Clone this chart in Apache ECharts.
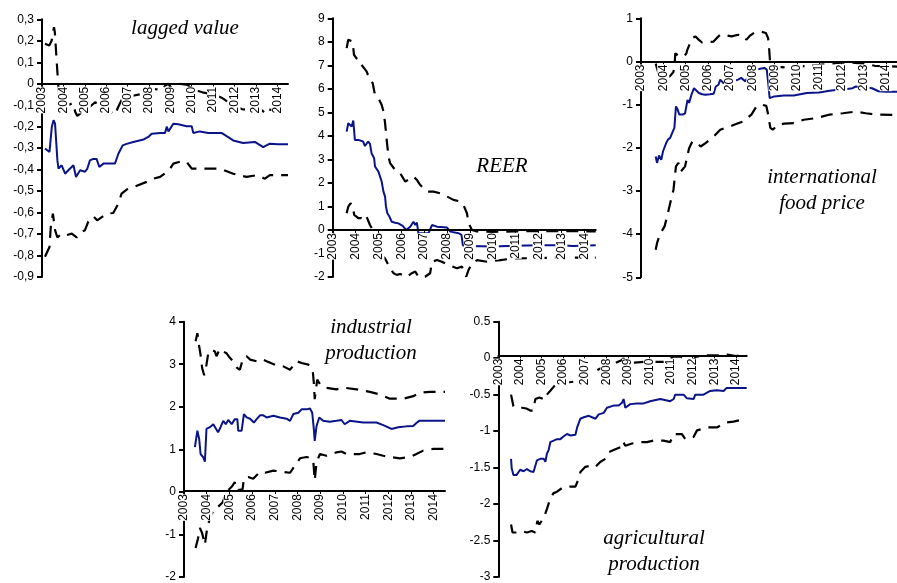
<!DOCTYPE html>
<html><head><meta charset="utf-8">
<script src="https://cdn.jsdelivr.net/npm/echarts@6/dist/echarts.min.js"></script>
<style>html,body{margin:0;padding:0;background:#fff}#c{width:897px;height:583px}</style>
</head><body><div id="c"></div>
<script>
// ---------- data (year, value) ----------
const yearTicks = [2003,2004,2005,2006,2007,2008,2009,2010,2011,2012,2013,2014];

const lagMid = [[2003.14,-0.302],[2003.35,-0.318],[2003.46,-0.20],[2003.54,-0.17],[2003.61,-0.186],[2003.72,-0.357],[2003.77,-0.395],[2003.92,-0.38],[2004.08,-0.419],[2004.23,-0.403],[2004.47,-0.38],[2004.59,-0.434],[2004.78,-0.403],[2005.01,-0.41],[2005.12,-0.395],[2005.24,-0.357],[2005.4,-0.35],[2005.55,-0.35],[2005.68,-0.388],[2005.87,-0.372],[2006.18,-0.372],[2006.41,-0.372],[2006.57,-0.326],[2006.77,-0.287],[2006.96,-0.28],[2007.27,-0.271],[2007.74,-0.26],[2007.97,-0.248],[2008.13,-0.233],[2008.52,-0.229],[2008.75,-0.229],[2008.83,-0.2],[2008.91,-0.222],[2009.14,-0.186],[2009.37,-0.189],[2009.76,-0.198],[2010.0,-0.198],[2010.07,-0.229],[2010.38,-0.222],[2010.77,-0.229],[2011.0,-0.229],[2011.39,-0.229],[2011.94,-0.264],[2012.4,-0.276],[2012.95,-0.271],[2013.34,-0.295],[2013.65,-0.279],[2014.04,-0.282],[2014.5,-0.282]];
const lagHigh = [[2003.14,0.186],[2003.34,0.178],[2003.45,0.20],[2003.56,0.263],[2003.6,0.24],[2003.72,0.054],[2003.8,-0.06],[2003.95,-0.1],[2004.2,-0.1],[2004.45,-0.09],[2004.55,-0.13],[2004.65,-0.15],[2004.9,-0.13],[2005.2,-0.11],[2005.5,-0.085],[2005.62,-0.115],[2005.9,-0.12],[2006.2,-0.13],[2006.4,-0.145],[2006.6,-0.1],[2006.8,-0.06],[2007.3,-0.055],[2007.8,-0.045],[2008.1,-0.02],[2008.3,-0.025],[2008.6,-0.03],[2008.75,-0.01],[2008.9,0.0],[2009.05,-0.02],[2009.4,0.0],[2009.8,-0.005],[2010.0,-0.025],[2010.5,-0.04],[2011.0,-0.05],[2011.4,-0.065],[2011.9,-0.1],[2012.4,-0.12],[2012.9,-0.115],[2013.3,-0.125],[2013.45,-0.14],[2013.6,-0.12],[2014.0,-0.125],[2014.5,-0.125]];
const lagLow = [[2003.14,-0.806],[2003.35,-0.76],[2003.41,-0.667],[2003.51,-0.605],[2003.61,-0.682],[2003.72,-0.716],[2003.92,-0.698],[2004.15,-0.705],[2004.39,-0.698],[2004.62,-0.716],[2004.85,-0.69],[2005.01,-0.682],[2005.16,-0.643],[2005.4,-0.617],[2005.58,-0.636],[2006.02,-0.605],[2006.33,-0.602],[2006.57,-0.558],[2006.72,-0.512],[2006.96,-0.493],[2007.27,-0.481],[2007.89,-0.457],[2008.21,-0.442],[2008.52,-0.434],[2008.83,-0.411],[2008.99,-0.395],[2009.14,-0.372],[2009.53,-0.361],[2009.76,-0.364],[2010.0,-0.395],[2010.38,-0.395],[2010.77,-0.395],[2011.32,-0.395],[2011.94,-0.419],[2012.56,-0.434],[2013.03,-0.426],[2013.42,-0.442],[2013.65,-0.426],[2014.5,-0.426]];

const reerMid = [[2003.61,4.18],[2003.68,4.54],[2003.75,4.61],[2003.83,4.4],[2003.9,4.65],[2003.97,3.83],[2004.12,3.83],[2004.19,3.9],[2004.33,3.76],[2004.41,3.57],[2004.55,3.76],[2004.63,3.66],[2004.7,3.26],[2004.81,3.05],[2004.85,2.7],[2005.0,2.48],[2005.07,2.41],[2005.14,2.06],[2005.22,1.63],[2005.29,1.42],[2005.33,0.99],[2005.39,0.71],[2005.48,0.57],[2005.58,0.35],[2005.73,0.31],[2005.87,0.28],[2005.95,0.35],[2006.06,0.17],[2006.21,0.0],[2006.27,0.03],[2006.39,0.14],[2006.53,0.35],[2006.61,0.21],[2006.68,0.31],[2006.75,-0.14],[2006.97,-0.14],[2007.19,-0.14],[2007.34,0.21],[2007.56,0.14],[2008.0,0.1],[2008.14,-0.07],[2008.51,-0.14],[2008.63,-0.21],[2008.69,-0.64],[2008.8,-0.7],[2009.0,-0.68],[2010.0,-0.7],[2011.0,-0.67],[2012.0,-0.65],[2013.0,-0.65],[2013.5,-0.68],[2014.5,-0.65]];
const reerHigh = [[2003.61,7.73],[2003.68,8.09],[2003.75,8.11],[2003.87,8.01],[2003.93,7.45],[2004.04,7.3],[2004.19,7.23],[2004.26,7.02],[2004.48,6.74],[2004.63,6.38],[2004.75,6.24],[2004.85,5.74],[2005.0,5.6],[2005.14,5.32],[2005.22,5.04],[2005.29,4.54],[2005.36,3.83],[2005.44,3.12],[2005.51,2.84],[2005.73,2.55],[2005.95,2.41],[2006.17,2.06],[2006.31,2.13],[2006.53,2.27],[2006.68,2.13],[2006.83,1.91],[2007.12,1.63],[2007.41,1.63],[2007.7,1.56],[2008.0,1.42],[2008.28,1.28],[2008.58,1.21],[2008.72,1.06],[2008.87,0.71],[2008.94,0.28],[2009.09,0.0],[2009.3,-0.06],[2010.0,-0.08],[2011.0,-0.06],[2012.0,-0.05],[2013.0,-0.05],[2014.5,-0.06]];
const reerLow = [[2003.61,0.71],[2003.68,0.99],[2003.78,1.13],[2003.87,1.06],[2003.94,0.64],[2004.12,0.5],[2004.26,0.5],[2004.41,0.43],[2004.48,0.57],[2004.63,0.21],[2004.75,0.0],[2004.85,-0.43],[2005.07,-0.99],[2005.29,-1.21],[2005.51,-1.63],[2005.66,-1.84],[2005.8,-1.91],[2005.95,-1.87],[2006.24,-2.0],[2006.46,-1.84],[2006.61,-1.77],[2006.75,-1.99],[2007.04,-1.99],[2007.26,-1.84],[2007.34,-1.35],[2007.56,-1.28],[2007.77,-1.35],[2008.07,-1.49],[2008.43,-1.63],[2008.65,-1.56],[2008.72,-1.7],[2008.84,-1.99],[2008.94,-1.7],[2009.09,-1.42],[2009.31,-1.28],[2009.75,-1.35],[2010.34,-1.28],[2010.92,-1.21],[2011.8,-1.2],[2012.53,-1.18],[2013.26,-1.18],[2014.5,-1.18]];

const foodMid = [[2003.66,-2.2],[2003.72,-2.35],[2003.81,-2.18],[2003.91,-2.28],[2003.99,-2.08],[2004.06,-2.12],[2004.13,-1.89],[2004.21,-1.81],[2004.31,-1.77],[2004.43,-1.62],[2004.5,-1.54],[2004.57,-1.04],[2004.65,-1.12],[2004.72,-1.23],[2004.87,-1.23],[2004.98,-1.2],[2005.09,-0.89],[2005.16,-0.96],[2005.28,-0.75],[2005.38,-0.62],[2005.46,-0.64],[2005.6,-0.73],[2005.75,-0.76],[2005.89,-0.77],[2006.1,-0.76],[2006.26,-0.75],[2006.36,-0.58],[2006.48,-0.54],[2006.56,-0.42],[2006.7,-0.5],[2006.9,-0.48],[2007.2,-0.45],[2007.36,-0.42],[2007.5,-0.38],[2007.68,-0.46],[2007.9,-0.3],[2008.1,-0.2],[2008.24,-0.18],[2008.54,-0.15],[2008.65,-0.19],[2008.73,-0.58],[2008.78,-0.85],[2008.83,-0.87],[2008.98,-0.81],[2009.42,-0.79],[2009.86,-0.79],[2010.45,-0.73],[2011.0,-0.72],[2011.47,-0.68],[2011.76,-0.66],[2012.1,-0.65],[2012.5,-0.62],[2012.65,-0.58],[2013.0,-0.6],[2013.38,-0.62],[2013.67,-0.69],[2014.0,-0.7],[2014.5,-0.7]];
const foodHigh = [[2003.66,-0.05],[2003.8,-0.3],[2004.0,-0.4],[2004.3,-0.34],[2004.45,-0.25],[2004.5,-0.15],[2004.54,0.19],[2004.72,0.12],[2004.94,0.12],[2005.04,0.19],[2005.08,0.27],[2005.3,0.54],[2005.45,0.58],[2005.6,0.5],[2005.74,0.44],[2005.89,0.44],[2006.26,0.46],[2006.4,0.54],[2006.56,0.62],[2006.7,0.62],[2007.07,0.58],[2007.36,0.62],[2007.66,0.58],[2007.73,0.5],[2007.9,0.6],[2008.1,0.67],[2008.39,0.69],[2008.61,0.66],[2008.71,0.54],[2008.76,0.27],[2008.8,-0.04],[2008.85,-0.12],[2009.0,-0.12],[2009.5,-0.14],[2010.0,-0.12],[2010.5,-0.1],[2011.0,-0.08],[2011.5,-0.05],[2012.0,-0.03],[2012.5,-0.03],[2013.0,-0.05],[2013.5,-0.1],[2014.5,-0.12]];
const foodLow = [[2003.66,-4.36],[2003.72,-4.21],[2003.84,-4.01],[2004.06,-3.82],[2004.21,-3.51],[2004.35,-3.2],[2004.46,-2.97],[2004.57,-2.43],[2004.68,-2.35],[2004.79,-2.55],[2004.98,-2.43],[2005.16,-2.01],[2005.31,-1.85],[2005.53,-1.89],[2005.68,-1.97],[2005.9,-1.89],[2006.19,-1.77],[2006.34,-1.7],[2006.56,-1.58],[2006.78,-1.54],[2007.07,-1.49],[2007.36,-1.43],[2007.6,-1.39],[2007.96,-1.23],[2008.19,-1.04],[2008.41,-1.0],[2008.63,-1.03],[2008.7,-1.2],[2008.81,-1.54],[2008.92,-1.58],[2009.14,-1.47],[2009.43,-1.44],[2009.87,-1.43],[2010.31,-1.35],[2010.9,-1.31],[2011.48,-1.23],[2012.07,-1.2],[2012.66,-1.16],[2013.1,-1.2],[2013.54,-1.23],[2014.5,-1.24]];

const indMid = [[2003.48,1.05],[2003.59,1.44],[2003.67,1.24],[2003.73,0.89],[2003.84,0.82],[2003.92,0.71],[2003.99,1.48],[2004.14,1.52],[2004.29,1.59],[2004.36,1.57],[2004.5,1.4],[2004.61,1.52],[2004.73,1.67],[2004.84,1.59],[2004.95,1.69],[2005.1,1.59],[2005.24,1.71],[2005.35,1.71],[2005.39,1.44],[2005.54,1.44],[2005.64,1.83],[2005.76,1.75],[2005.91,1.72],[2006.08,1.63],[2006.2,1.71],[2006.35,1.8],[2006.49,1.8],[2006.64,1.75],[2006.94,1.79],[2007.23,1.75],[2007.52,1.72],[2007.67,1.67],[2007.82,1.83],[2008.04,1.86],[2008.18,1.94],[2008.4,1.94],[2008.55,1.96],[2008.65,1.86],[2008.72,1.48],[2008.76,1.2],[2008.84,1.55],[2008.96,1.75],[2009.13,1.67],[2009.42,1.65],[2009.72,1.67],[2009.94,1.69],[2010.08,1.59],[2010.3,1.67],[2010.89,1.63],[2011.48,1.63],[2011.78,1.57],[2012.14,1.48],[2012.44,1.52],[2012.8,1.54],[2013.1,1.55],[2013.24,1.62],[2013.36,1.67],[2013.68,1.67],[2013.98,1.67],[2014.5,1.67]];
const indHigh = [[2003.51,3.54],[2003.59,3.73],[2003.67,3.42],[2003.73,3.22],[2003.8,2.91],[2003.89,2.74],[2003.99,2.99],[2004.07,3.26],[2004.21,3.34],[2004.36,3.3],[2004.43,3.19],[2004.58,3.36],[2004.73,3.3],[2004.87,3.26],[2005.02,3.15],[2005.16,3.07],[2005.35,2.91],[2005.46,2.87],[2005.61,3.15],[2005.76,3.19],[2005.91,3.11],[2006.2,3.07],[2006.42,3.12],[2006.64,3.07],[2007.01,2.99],[2007.38,2.95],[2007.67,2.87],[2007.97,3.07],[2008.18,3.03],[2008.48,2.99],[2008.67,2.87],[2008.72,2.56],[2008.76,2.18],[2008.87,2.64],[2008.99,2.53],[2009.2,2.45],[2009.72,2.41],[2010.02,2.45],[2010.6,2.41],[2011.19,2.35],[2011.63,2.29],[2012.07,2.19],[2012.66,2.19],[2013.1,2.25],[2013.39,2.33],[2013.83,2.35],[2014.5,2.35]];
const indLow = [[2003.51,-1.32],[2003.62,-1.09],[2003.7,-0.85],[2003.8,-0.97],[2003.92,-1.24],[2004.02,-0.85],[2004.15,-0.6],[2004.35,-0.38],[2004.5,-0.35],[2004.7,-0.25],[2004.87,0.0],[2005.1,0.12],[2005.24,0.23],[2005.3,0.04],[2005.58,0.06],[2005.64,0.31],[2005.83,0.35],[2006.05,0.31],[2006.35,0.47],[2006.57,0.45],[2006.94,0.5],[2007.38,0.47],[2007.67,0.45],[2007.89,0.62],[2008.11,0.79],[2008.4,0.82],[2008.62,0.79],[2008.7,0.7],[2008.76,0.27],[2008.84,0.7],[2008.99,0.89],[2009.28,0.85],[2009.72,0.93],[2009.94,0.95],[2010.16,0.89],[2010.74,0.89],[2011.04,0.93],[2011.48,0.89],[2011.78,0.85],[2012.07,0.82],[2012.51,0.79],[2012.95,0.82],[2013.24,0.89],[2013.54,0.97],[2013.98,1.01],[2014.5,1.01]];

const agrMid = [[2003.59,-1.38],[2003.62,-1.51],[2003.7,-1.6],[2003.85,-1.6],[2004.01,-1.53],[2004.17,-1.55],[2004.32,-1.52],[2004.48,-1.55],[2004.63,-1.56],[2004.71,-1.58],[2004.79,-1.4],[2004.94,-1.38],[2005.1,-1.38],[2005.18,-1.42],[2005.25,-1.31],[2005.33,-1.26],[2005.41,-1.15],[2005.56,-1.13],[2005.72,-1.11],[2005.87,-1.11],[2006.03,-1.07],[2006.18,-1.04],[2006.34,-1.06],[2006.57,-1.05],[2006.65,-0.95],[2006.73,-0.95],[2006.8,-0.83],[2006.96,-0.81],[2007.19,-0.79],[2007.34,-0.81],[2007.5,-0.83],[2007.65,-0.77],[2007.88,-0.75],[2008.03,-0.68],[2008.34,-0.65],[2008.57,-0.65],[2008.73,-0.61],[2008.8,-0.56],[2008.88,-0.68],[2009.11,-0.63],[2009.42,-0.62],[2009.73,-0.62],[2010.03,-0.59],[2010.5,-0.56],[2010.96,-0.59],[2011.12,-0.56],[2011.19,-0.5],[2011.58,-0.5],[2011.73,-0.55],[2012.04,-0.56],[2012.12,-0.5],[2012.5,-0.5],[2012.81,-0.45],[2013.12,-0.44],[2013.43,-0.45],[2013.56,-0.41],[2014.0,-0.41],[2014.5,-0.41]];
const agrHigh = [[2003.59,-0.5],[2003.7,-0.66],[2003.85,-0.68],[2004.1,-0.68],[2004.3,-0.69],[2004.5,-0.72],[2004.6,-0.72],[2004.72,-0.56],[2004.9,-0.54],[2005.17,-0.57],[2005.25,-0.5],[2005.4,-0.45],[2005.6,-0.38],[2005.75,-0.33],[2006.0,-0.33],[2006.3,-0.33],[2006.55,-0.32],[2006.75,-0.25],[2007.0,-0.2],[2007.46,-0.18],[2007.8,-0.13],[2008.08,-0.09],[2008.4,-0.07],[2008.7,-0.03],[2008.8,0.0],[2008.9,-0.06],[2009.3,-0.06],[2009.8,-0.05],[2010.3,-0.05],[2010.7,-0.05],[2011.1,0.02],[2011.45,0.02],[2011.7,-0.03],[2012.0,-0.04],[2012.15,0.02],[2012.7,0.04],[2013.2,0.04],[2013.6,0.05],[2014.0,0.03],[2014.5,0.05]];
const agrLow = [[2003.59,-2.28],[2003.66,-2.39],[2003.85,-2.39],[2004.08,-2.37],[2004.32,-2.39],[2004.55,-2.37],[2004.71,-2.39],[2004.81,-2.23],[2004.9,-2.28],[2005.1,-2.19],[2005.25,-2.07],[2005.41,-1.92],[2005.56,-1.85],[2005.72,-1.83],[2005.95,-1.78],[2006.18,-1.76],[2006.57,-1.76],[2006.73,-1.65],[2006.8,-1.56],[2007.03,-1.49],[2007.34,-1.47],[2007.5,-1.49],[2007.73,-1.42],[2007.96,-1.38],[2008.11,-1.29],[2008.34,-1.26],[2008.65,-1.22],[2008.77,-1.14],[2008.88,-1.2],[2009.19,-1.17],[2009.57,-1.15],[2009.88,-1.15],[2010.19,-1.13],[2010.65,-1.13],[2010.96,-1.15],[2011.12,-1.04],[2011.5,-1.04],[2011.66,-1.11],[2012.04,-1.08],[2012.2,-0.99],[2012.66,-0.95],[2013.12,-0.95],[2013.43,-0.9],[2013.58,-0.88],[2013.89,-0.87],[2014.5,-0.83]];

// ---------- layout / styles ----------
const BLUE = '#0a148a';
const SANS = 'Liberation Sans, Arial, sans-serif';
const SERIF = 'Liberation Serif, Times New Roman, serif';
const panels = [
  {box:{left:42, top:19.3, width:246, height:257.7}, y:[-0.9,0.3,0.1], comma:true, s:[lagHigh, lagMid, lagLow]},
  {box:{left:332.7, top:18.3, width:263, height:258.7}, y:[-2,9,1], s:[reerHigh, reerMid, reerLow]},
  {box:{left:641, top:18.3, width:261, height:259}, y:[-5,1,1], s:[foodHigh, foodMid, foodLow]},
  {box:{left:184, top:321.7, width:261, height:257.6}, y:[-2,4,1], s:[indHigh, indMid, indLow]},
  {box:{left:498.3, top:321.7, width:248.4, height:258.3}, y:[-3,0.5,0.5], s:[agrHigh, agrMid, agrLow]}
];

const grid = [], xAxis = [], yAxis = [], series = [];
panels.forEach((p, i) => {
  grid.push(Object.assign({containLabel:false}, p.box));
  // distance (px) from grid bottom up to the zero line, so the x axis and its labels sit on y = 0
  const zeroOffset = -p.box.height * (0 - p.y[0]) / (p.y[1] - p.y[0]);
  xAxis.push({
    gridIndex:i, type:'value', min:2003, max:2014.5, interval:1, z:5,
    position:'bottom', offset:zeroOffset,
    axisLine:{onZero:false, lineStyle:{color:'#000', width:2}},
    axisTick:{show:true, length:3, customValues:yearTicks, lineStyle:{color:'#000', width:1}},
    axisLabel:{rotate:90, margin:3, fontSize:12, fontFamily:SANS, color:'#000',
      backgroundColor:'#fff', customValues:yearTicks,
      formatter: v => Number.isInteger(v) ? String(v) : ''},
    splitLine:{show:false}
  });
  yAxis.push({
    gridIndex:i, type:'value', min:p.y[0], max:p.y[1], interval:p.y[2],
    axisLine:{show:true, onZero:false, lineStyle:{color:'#000', width:2}},
    axisTick:{show:true, length:5, lineStyle:{color:'#000', width:2}},
    axisLabel:{margin:8, fontSize:12, fontFamily:SANS, color:'#000',
      formatter: v => {
        if (Math.abs(v) < 1e-9) return '0';
        return p.comma ? v.toFixed(1).replace('.', ',') : String(+v.toFixed(2));
      }},
    splitLine:{show:false}
  });
  const mk = (data, color, width, type) => ({
    type:'line', xAxisIndex:i, yAxisIndex:i, data, symbol:'none', showSymbol:false,
    lineStyle:{color, width, type}, animation:false, z:2
  });
  series.push(mk(p.s[0], '#000', 2.2, [12,8]));
  series.push(mk(p.s[2], '#000', 2.2, [12,8]));
  series.push(mk(p.s[1], BLUE, 2, 'solid'));
});

const titleStyle = (x, y, text) => ({
  type:'text', x, y, z:50,
  style:{text, font:'italic 21px ' + SERIF, fill:'#000', align:'center', verticalAlign:'middle', lineHeight:26}
});

const chart = echarts.init(document.getElementById('c'), null, {renderer:'canvas'});
chart.setOption({
  animation:false,
  backgroundColor:'#fff',
  grid, xAxis, yAxis, series,
  graphic:[
    titleStyle(185, 28, 'lagged value'),
    titleStyle(502, 166, 'REER'),
    titleStyle(822, 190, 'international\nfood price'),
    titleStyle(371, 340, 'industrial\nproduction'),
    titleStyle(654, 551, 'agricultural\nproduction')
  ]
});
</script>
</body></html>
